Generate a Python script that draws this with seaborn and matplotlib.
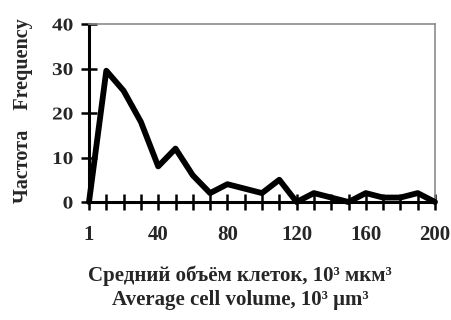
import matplotlib
matplotlib.use("Agg")
import matplotlib.pyplot as plt
import numpy as np
import pandas as pd
import seaborn as sns
from matplotlib.patheffects import AbstractPathEffect
from matplotlib.transforms import Affine2D

# ---- data ----
volume_bins = [1, 10, 20, 30, 40, 50, 60, 70, 80, 90, 100,
               110, 120, 130, 140, 150, 160, 170, 180, 190, 200]
frequency = [0, 29.5, 25, 18, 8, 12, 6, 2, 4, 3, 2,
             5, 0, 2, 1, 0, 2, 1, 1, 2, 0]
x_tick_labels = ["1", "40", "80", "120", "160", "200"]
y_ticks = [0, 10, 20, 30, 40]
xlabel_ru = "Средний объём клеток, 10³ мкм³"
xlabel_en = "Average cell volume, 10³ μm³"
ylabel_text = "Частота    Frequency"


class StretchX(AbstractPathEffect):
    """Stretch text glyphs horizontally about an anchor."""
    def __init__(self, sx, anchor="center"):
        super().__init__()
        self.sx = sx
        self.anchor = anchor

    def draw_path(self, renderer, gc, tpath, affine, rgbFace=None):
        ext = tpath.get_extents()
        c = {"left": ext.x0, "center": 0.5 * (ext.x0 + ext.x1), "right": ext.x1}[self.anchor]
        tr = Affine2D().translate(-c, 0).scale(self.sx, 1).translate(c, 0) + affine
        renderer.draw_path(gc, tpath, tr, rgbFace)


sns.set_style("white")
plt.rcParams["font.family"] = ["Liberation Serif", "DejaVu Serif"]
plt.rcParams["font.weight"] = "bold"

df = pd.DataFrame({
    "pos": np.arange(len(volume_bins)),
    "volume": volume_bins,
    "frequency": frequency,
})

fig = plt.figure(figsize=(4.51, 3.2), dpi=100)
ax = fig.add_axes([89 / 451, 1 - 202 / 320, (435 - 89) / 451, (202 - 24) / 320])

sns.lineplot(data=df, x="pos", y="frequency", ax=ax, color="black",
             linewidth=4.2, clip_on=False, zorder=5)
for ln in ax.lines:
    ln.set_solid_joinstyle("round")
    ln.set_solid_capstyle("round")

ax.set_xlim(0, len(volume_bins) - 1)
ax.set_ylim(0, 40)

ax.set_xticks(df["pos"])
labels = [""] * len(volume_bins)
for i, lab in enumerate(x_tick_labels):
    labels[i * 4] = lab
ax.set_xticklabels(labels, fontsize=15, fontweight="bold")
ax.set_yticks(y_ticks)
ax.set_yticklabels([str(v) for v in y_ticks], fontsize=13, fontweight="bold")

ax.tick_params(axis="x", direction="inout", length=11, width=1.8, color="black",
               pad=11, bottom=True)
ax.tick_params(axis="y", direction="inout", length=11, width=1.8, color="black",
               pad=6, left=True)
for lab in ax.get_yticklabels():
    lab.set_path_effects([StretchX(1.18, "right")])

for side in ["left", "bottom"]:
    ax.spines[side].set_color("black")
    ax.spines[side].set_linewidth(2.2)
for side in ["top", "right"]:
    ax.spines[side].set_visible(True)
    ax.spines[side].set_color("#8c8c8c")
    ax.spines[side].set_linewidth(1.2)

ax.set_xlabel(xlabel_ru + "\n" + xlabel_en, fontsize=15, fontweight="bold",
              linespacing=1.3, multialignment="center")
ax.xaxis.set_label_coords((240 - 89) / 346, (202 - 265) / 178)

ax.set_ylabel(ylabel_text, fontsize=14.5, fontweight="bold")
ax.yaxis.set_label_coords((33 - 89) / 346, (202 - 111) / 178)

ax.grid(False)
fig.savefig("out.png", dpi=100)
